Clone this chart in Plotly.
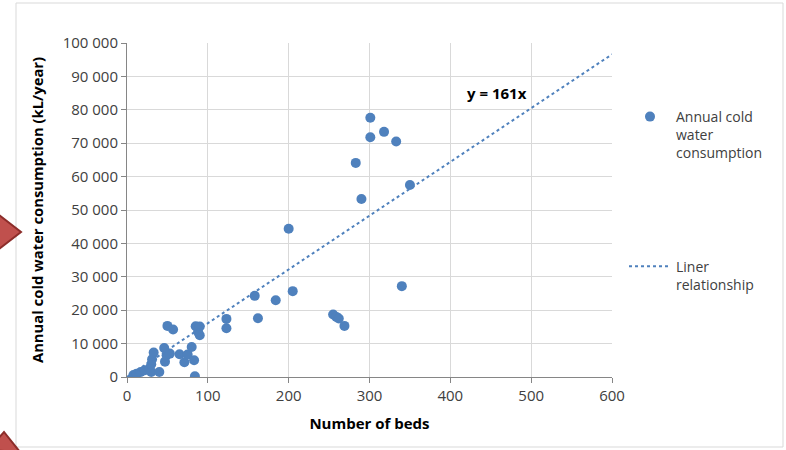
import plotly.graph_objects as go

# ---- data ----
beds = [8, 12, 17, 22, 28, 30, 30, 31, 33, 40, 46, 47, 49, 50, 53, 57, 65, 71, 75, 80,
        83, 84, 85, 88, 90, 90, 123, 123, 158, 162, 184, 200, 205, 255, 259, 262, 269,
        283, 290, 301, 301, 318, 333, 340, 350]
water = [600, 1000, 1500, 2000, 2500, 1500, 3800, 5300, 7300, 1500, 8700, 4600, 6500,
         15300, 7000, 14200, 6800, 4400, 6700, 9000, 5000, 200, 15200, 13500, 15100,
         12500, 17400, 14600, 24300, 17600, 23000, 44400, 25700, 18700, 18000, 17500,
         15300, 64100, 53300, 77600, 71800, 73400, 70500, 27200, 57500]
slope = 161
trend_x = [0, 600]
trend_y = [slope * v for v in trend_x]

y_ticks = [0, 10000, 20000, 30000, 40000, 50000, 60000, 70000, 80000, 90000, 100000]
y_ticktext = ["0", "10 000", "20 000", "30 000", "40 000", "50 000", "60 000",
              "70 000", "80 000", "90 000", "100 000"]
x_ticks = [0, 100, 200, 300, 400, 500, 600]

BLUE = "#4F81BD"
FONT = "Open Sans"

fig = go.Figure()
fig.add_trace(go.Scatter(
    x=beds, y=water, mode="markers", name="Annual cold<br>water<br>consumption",
    marker=dict(color=BLUE, size=10, line=dict(width=0)), legendgroup="a",
))
fig.add_trace(go.Scatter(
    x=trend_x, y=trend_y, mode="lines", name="Liner<br>relationship",
    line=dict(color=BLUE, width=2, dash="dot"), legendgroup="b",
))

# plot area in pixels: x 127..612, y 43..377
L, R, T, B = 127, 612, 43, 377
W, H = R - L, B - T

def px(x):
    return (x - L) / W

def py(y):
    return (B - y) / H

shapes = [
    # outer chart frame
    dict(type="rect", xref="paper", yref="paper", x0=px(16), x1=px(783), y0=py(447), y1=py(3),
         line=dict(color="#D9D9D9", width=1), fillcolor="rgba(0,0,0,0)", layer="below"),
    # red slide decorations
    dict(type="path", xref="paper", yref="paper",
         path=f"M {px(-10)},{py(208)} L {px(21)},{py(232)} L {px(-10)},{py(256)} Z",
         fillcolor="#C0504D", line=dict(color="#8C2D2A", width=2)),
    dict(type="path", xref="paper", yref="paper",
         path=f"M {px(-12)},{py(450)} L {px(4)},{py(432)} L {px(20)},{py(452)} Z",
         fillcolor="#C0504D", line=dict(color="#8C2D2A", width=2)),
]

fig.update_layout(
    width=786, height=450,
    margin=dict(l=L, r=786 - R, t=T, b=450 - B, autoexpand=False),
    paper_bgcolor="white", plot_bgcolor="white",
    font=dict(family=FONT, size=15, color="#404040"),
    showlegend=True,
    legend=dict(x=px(624), y=py(101), xanchor="left", yanchor="top",
                tracegroupgap=92, valign="top", font=dict(size=14, color="#404040"),
                bgcolor="rgba(0,0,0,0)", itemwidth=42),
    shapes=shapes,
    annotations=[dict(x=458, y=85000, xref="x", yref="y", text="<b>y = 161x</b>",
                      showarrow=False, font=dict(size=15, color="black", family=FONT))],
)
fig.update_xaxes(
    range=[0, 600], tickvals=x_ticks, showgrid=True, gridcolor="#D9D9D9", gridwidth=1,
    showline=True, linecolor="#868686", linewidth=1, ticks="outside", ticklen=5,
    tickcolor="#868686", zeroline=False, tickfont=dict(size=15),
    title=dict(text="<b>Number of beds</b>", font=dict(size=15, color="black"), standoff=14),
)
fig.update_yaxes(
    range=[0, 100000], tickvals=y_ticks, ticktext=y_ticktext, showgrid=True,
    gridcolor="#D9D9D9", gridwidth=1, showline=True, linecolor="#868686", linewidth=1,
    ticks="outside", ticklen=5, tickcolor="#868686", zeroline=False,
    tickfont=dict(size=15),
    title=dict(text="<b>Annual cold water consumption (kL/year)</b>",
               font=dict(size=14.8, color="black"), standoff=15),
)

fig.write_html("out.html")
